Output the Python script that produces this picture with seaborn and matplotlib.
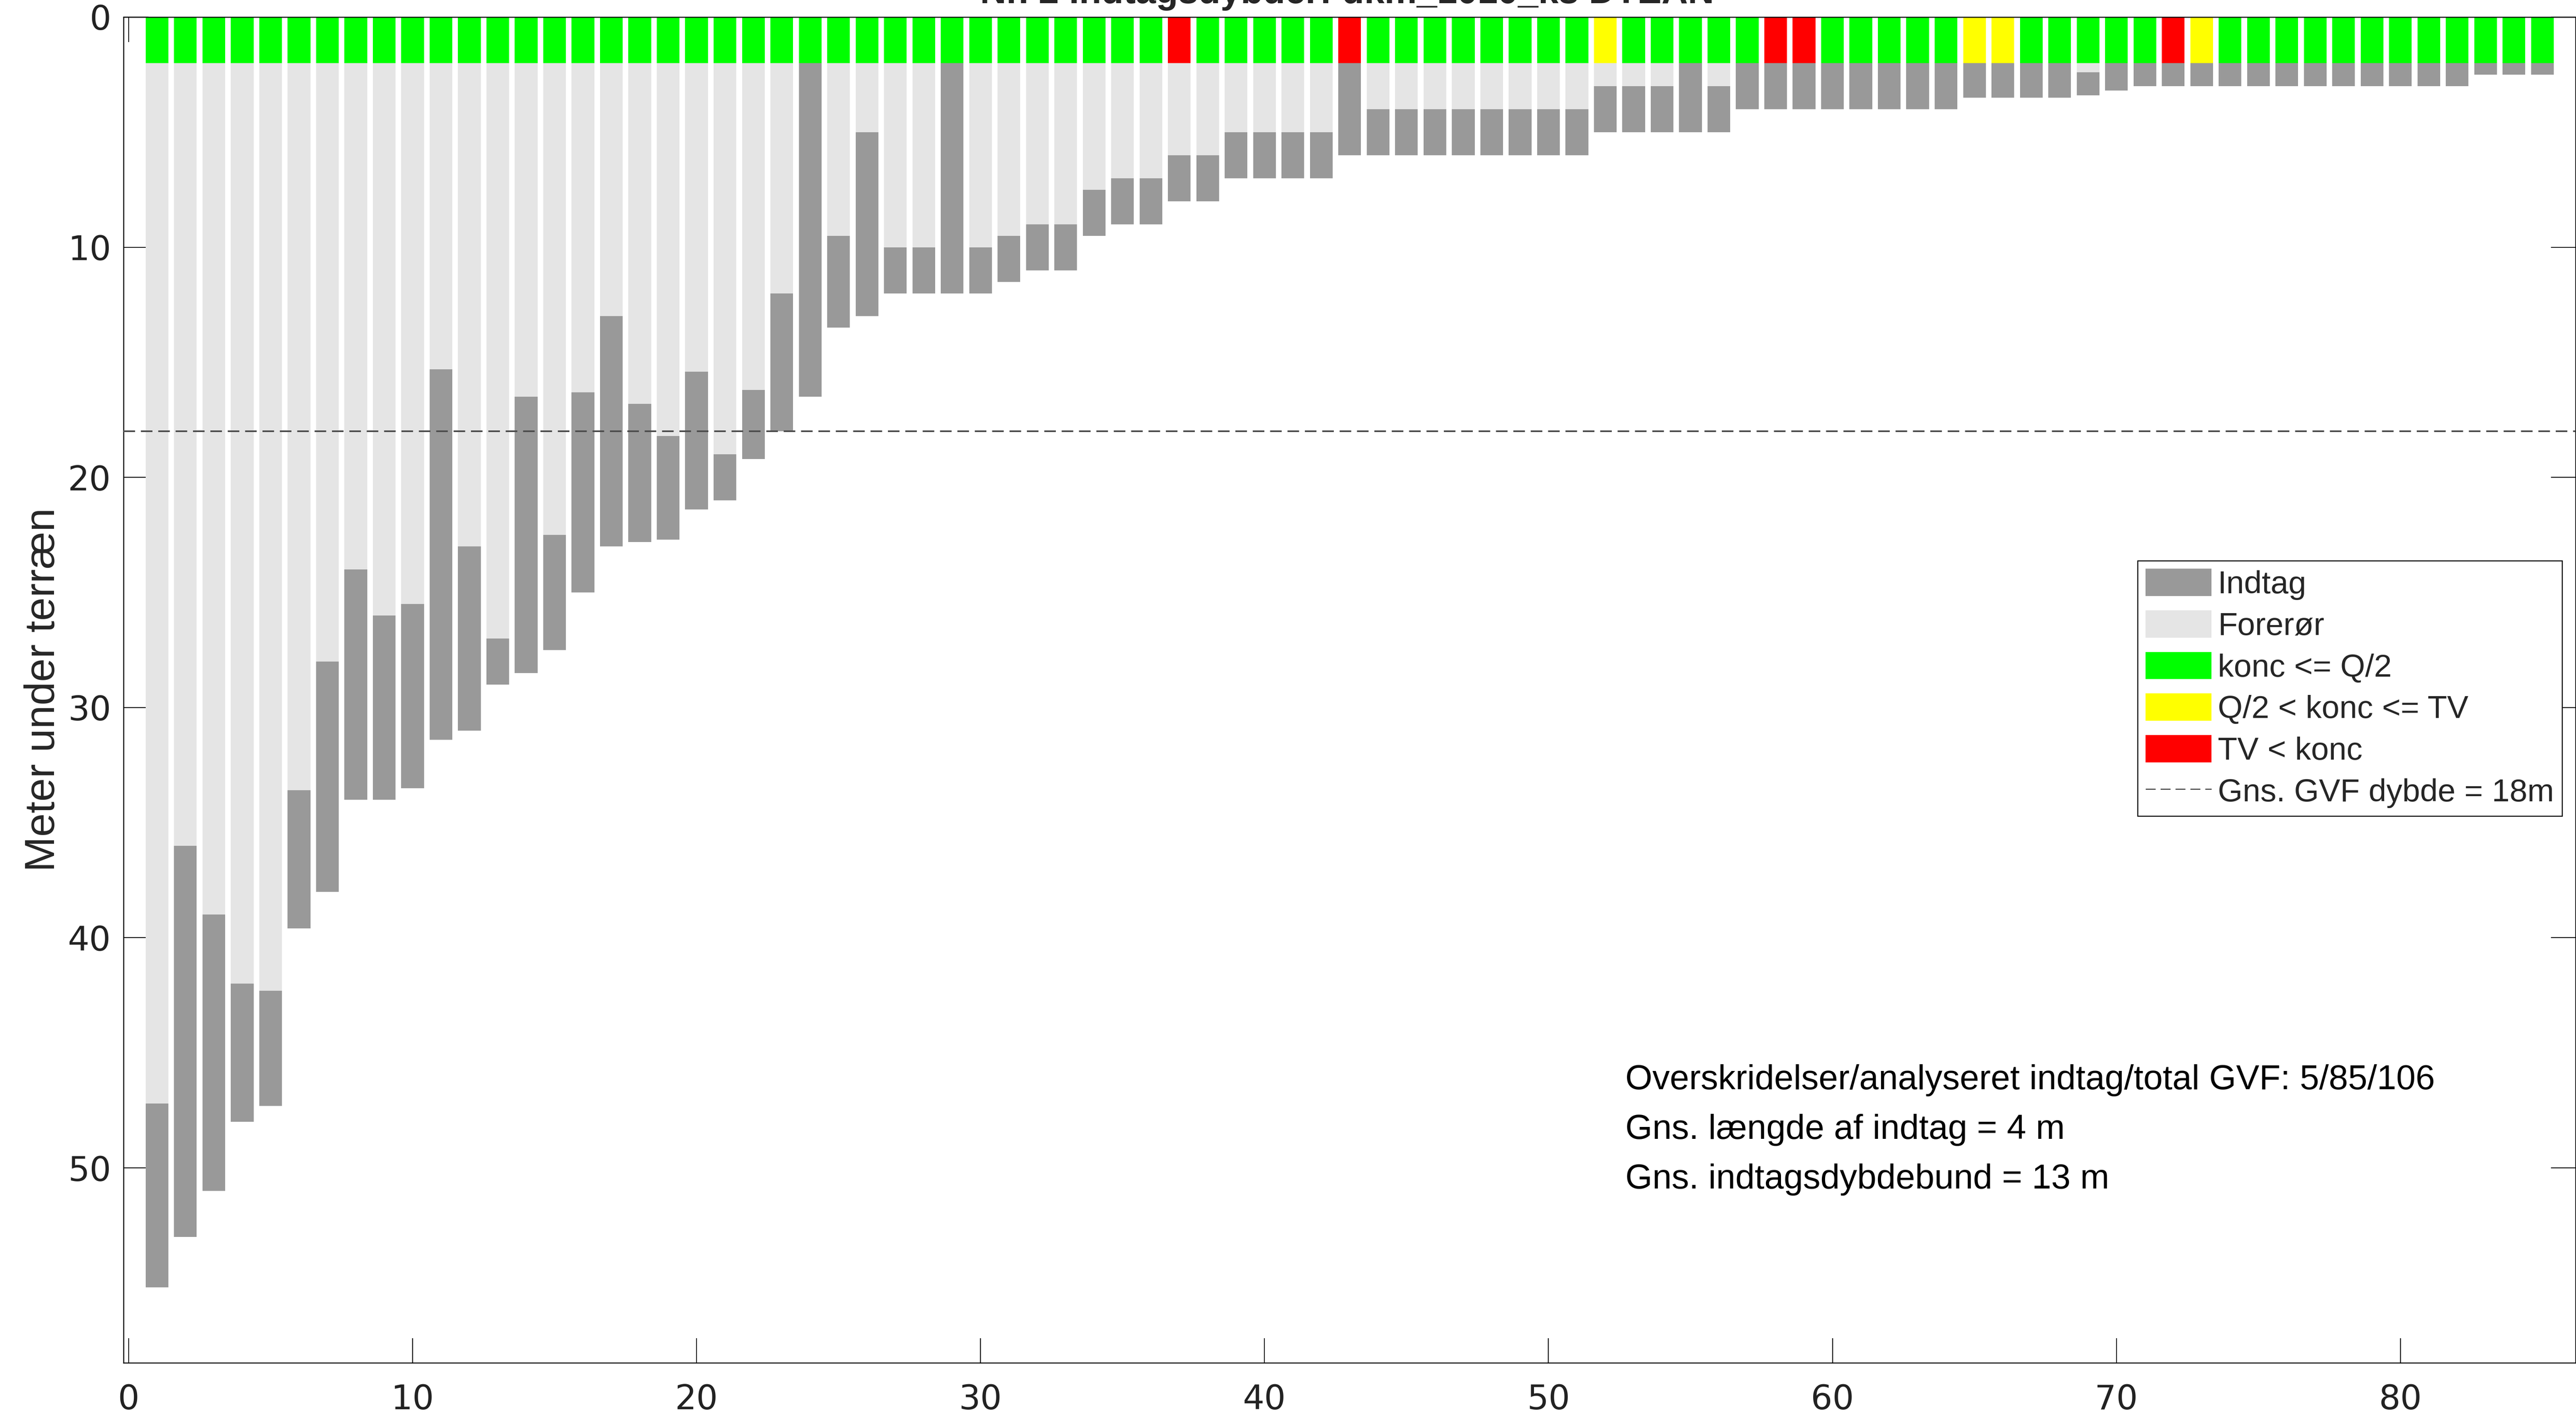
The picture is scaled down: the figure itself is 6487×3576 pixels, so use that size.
import numpy as np
import pandas as pd
import seaborn as sns
import matplotlib.pyplot as plt
from matplotlib.patches import Patch
from matplotlib.lines import Line2D

# indtag nr. 1..85 (sorteret efter dybde)
nr = list(range(1, 86))

# top af indtag (= bund af forerør), meter under terræn
indtag_top = [47.2, 36.0, 39.0, 42.0, 42.3, 33.6, 28.0, 24.0, 26.0, 25.5,
              15.3, 23.0, 27.0, 16.5, 22.5, 16.3, 13.0, 16.8, 18.2, 15.4,
              19.0, 16.2, 12.0, 2.0, 9.5, 5.0, 10.0, 10.0, 2.0, 10.0,
              9.5, 9.0, 9.0, 7.5, 7.0, 7.0, 6.0, 6.0, 5.0, 5.0,
              5.0, 5.0, 2.0, 4.0, 4.0, 4.0, 4.0, 4.0, 4.0, 4.0,
              4.0, 3.0, 3.0, 3.0, 2.0, 3.0, 2.0, 2.0, 2.0, 2.0,
              2.0, 2.0, 2.0, 2.0, 2.0, 2.0, 2.0, 2.0, 2.4, 2.0,
              2.0, 2.0, 2.0, 2.0, 2.0, 2.0, 2.0, 2.0, 2.0, 2.0,
              2.0, 2.0, 2.0, 2.0, 2.0]

# bund af indtag
indtag_bund = [55.2, 53.0, 51.0, 48.0, 47.3, 39.6, 38.0, 34.0, 34.0, 33.5,
               31.4, 31.0, 29.0, 28.5, 27.5, 25.0, 23.0, 22.8, 22.7, 21.4,
               21.0, 19.2, 18.0, 16.5, 13.5, 13.0, 12.0, 12.0, 12.0, 12.0,
               11.5, 11.0, 11.0, 9.5, 9.0, 9.0, 8.0, 8.0, 7.0, 7.0,
               7.0, 7.0, 6.0, 6.0, 6.0, 6.0, 6.0, 6.0, 6.0, 6.0,
               6.0, 5.0, 5.0, 5.0, 5.0, 5.0, 4.0, 4.0, 4.0, 4.0,
               4.0, 4.0, 4.0, 4.0, 3.5, 3.5, 3.5, 3.5, 3.4, 3.2,
               3.0, 3.0, 3.0, 3.0, 3.0, 3.0, 3.0, 3.0, 3.0, 3.0,
               3.0, 3.0, 2.5, 2.5, 2.5]

# koncentrationsstatus pr. indtag: G = konc <= Q/2, Y = Q/2 < konc <= TV, R = TV < konc
status = ['G', 'G', 'G', 'G', 'G', 'G', 'G', 'G', 'G', 'G',
          'G', 'G', 'G', 'G', 'G', 'G', 'G', 'G', 'G', 'G',
          'G', 'G', 'G', 'G', 'G', 'G', 'G', 'G', 'G', 'G',
          'G', 'G', 'G', 'G', 'G', 'G', 'R', 'G', 'G', 'G',
          'G', 'G', 'R', 'G', 'G', 'G', 'G', 'G', 'G', 'G',
          'G', 'Y', 'G', 'G', 'G', 'G', 'G', 'R', 'R', 'G',
          'G', 'G', 'G', 'G', 'Y', 'Y', 'G', 'G', 'G', 'G',
          'G', 'R', 'Y', 'G', 'G', 'G', 'G', 'G', 'G', 'G',
          'G', 'G', 'G', 'G', 'G']

status_dybde = 2.0
gvf_dybde = 18

status_farver = {'G': '#00FF00', 'Y': '#FFFF00', 'R': '#FF0000'}
status_navne = {'G': 'konc <= Q/2', 'Y': 'Q/2 < konc <= TV', 'R': 'TV < konc'}
farve_indtag = '#999999'
farve_forroer = '#E5E5E5'

df = pd.DataFrame({'nr': nr, 'top': indtag_top, 'bund': indtag_bund, 'status': status})
df['status_h'] = status_dybde

sns.set_theme(style='white')
plt.rcParams['font.family'] = ['Liberation Sans', 'DejaVu Sans']

fig = plt.figure(figsize=(6487 / 300, 3576 / 300), dpi=300)
ax = fig.add_axes([0.04794, 0.04027, 0.95191, 0.94771])

# indtag (hele dybden), forerør ovenpå, status-kasse øverst
sns.barplot(data=df, x='nr', y='bund', native_scale=True, color=farve_indtag,
            saturation=1, width=0.8, errorbar=None, linewidth=0, ax=ax)
sns.barplot(data=df, x='nr', y='top', native_scale=True, color=farve_forroer,
            saturation=1, width=0.8, errorbar=None, linewidth=0, ax=ax)
sns.barplot(data=df, x='nr', y='status_h', hue='status', palette=status_farver,
            native_scale=True, dodge=False, saturation=1, width=0.8,
            errorbar=None, linewidth=0, legend=False, ax=ax)

ax.axhline(gvf_dybde, color='0.3', lw=1.0, ls=(0, (7, 3.5)), zorder=5)

ax.set_xlim(-0.18, 86.17)
ax.set_ylim(58.47, 0)
ax.set_xticks(range(0, 90, 10))
ax.set_yticks(range(0, 60, 10))
ax.set_xlabel('')
ax.set_ylabel('Meter under terræn', fontsize=25.5, labelpad=3)

for s in ax.spines.values():
    s.set_visible(True)
    s.set_color('black')
    s.set_linewidth(0.6)

ax.tick_params(direction='in', length=15, width=0.5, color='black',
               top=True, right=True, bottom=True, left=True, labelsize=20.5)
ax.tick_params(axis='x', pad=12.5)
ax.tick_params(axis='y', pad=7.5)
for lab in ax.get_xticklabels() + ax.get_yticklabels():
    lab.set_family('DejaVu Sans')
    lab.set_color('#222222')

handles = [Patch(facecolor=farve_indtag, edgecolor='none', label='Indtag'),
           Patch(facecolor=farve_forroer, edgecolor='none', label='Forerør')]
for k in ['G', 'Y', 'R']:
    handles.append(Patch(facecolor=status_farver[k], edgecolor='none', label=status_navne[k]))
handles.append(Line2D([0], [0], color='0.2', lw=0.6, ls=(0, (10, 5)),
                      label=f'Gns. GVF dybde = {gvf_dybde}m'))

leg = ax.legend(handles=handles, loc='upper left', bbox_to_anchor=(0.8214, 0.5961),
                borderaxespad=0, fontsize=19.3, frameon=True, fancybox=False,
                edgecolor='black', framealpha=1, handlelength=2.06, handleheight=0.94,
                handletextpad=0.2, labelspacing=0.32, borderpad=0.25)
leg.get_frame().set_linewidth(0.6)

tekster = ['Overskridelser/analyseret indtag/total GVF: 5/85/106',
           'Gns. længde af indtag = 4 m',
           'Gns. indtagsdybdebund = 13 m']
for t, y in zip(tekster, [46.2, 48.35, 50.5]):
    ax.text(52.7, y, t, fontsize=21, va='center', ha='left', color='black')

# titlen er beskåret i toppen af figuren, som i originalen
fig.text(0.523, 0.9978, 'Nr. 2 Indtagsdybder: dkm_1010_ks DTEAN', fontsize=22,
         fontweight='bold', ha='center', va='baseline')

fig.savefig('out.png', dpi=300)
